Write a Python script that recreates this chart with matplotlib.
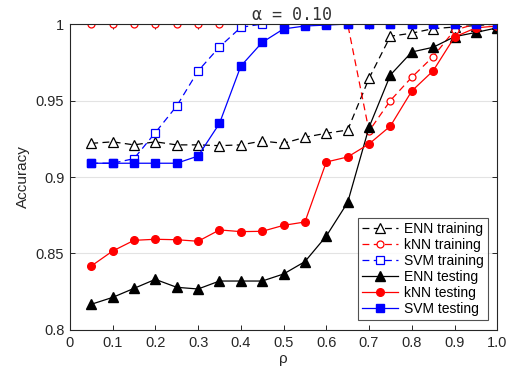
import matplotlib
matplotlib.use("Agg")
import matplotlib.pyplot as plt
import numpy as np

rho = [0.05, 0.10, 0.15, 0.20, 0.25, 0.30, 0.35, 0.40, 0.45, 0.50,
       0.55, 0.60, 0.65, 0.70, 0.75, 0.80, 0.85, 0.90, 0.95, 1.00]

enn_train = [0.922, 0.923, 0.921, 0.923, 0.921, 0.921, 0.9205, 0.921, 0.9235, 0.922,
             0.926, 0.9286, 0.9307, 0.9645, 0.992, 0.994, 0.997, 0.998, 0.999, 1.000]
knn_train = [1.0, 1.0, 1.0, 1.0, 1.0, 1.0, 1.0, 1.0, 1.0, 1.0,
             1.0, 1.0, 1.0, 0.930, 0.950, 0.9652, 0.9787, 0.996, 1.0, 1.0]
svm_train = [0.909, 0.909, 0.912, 0.929, 0.9464, 0.9693, 0.985, 0.9978, 1.0, 1.0,
             1.0, 1.0, 1.0, 1.0, 1.0, 1.0, 1.0, 1.0, 1.0, 1.0]
enn_test = [0.8168, 0.8213, 0.8272, 0.8331, 0.8279, 0.8268, 0.832, 0.832, 0.832, 0.8366,
            0.8447, 0.8614, 0.8834, 0.9325, 0.9667, 0.9817, 0.9848, 0.9917, 0.9945, 0.9975]
knn_test = [0.8418, 0.8516, 0.8586, 0.8593, 0.859, 0.858, 0.8654, 0.8643, 0.8645, 0.8684,
            0.8706, 0.9098, 0.9131, 0.9216, 0.9333, 0.9562, 0.9694, 0.9915, 0.9975, 0.9987]
svm_test = [0.909, 0.909, 0.909, 0.909, 0.909, 0.9137, 0.935, 0.9725, 0.988, 0.9968,
            0.9987, 0.9993, 1.0, 1.0, 1.0, 1.0, 1.0, 1.0, 1.0, 1.0]

x_ticks = [0, 0.1, 0.2, 0.3, 0.4, 0.5, 0.6, 0.7, 0.8, 0.9, 1.0]
x_tick_labels = ["0", "0.1", "0.2", "0.3", "0.4", "0.5", "0.6", "0.7", "0.8", "0.9", "1.0"]
y_ticks = [0.8, 0.85, 0.9, 0.95, 1.0]
y_tick_labels = ["0.8", "0.85", "0.9", "0.95", "1"]

plt.rcParams["font.family"] = ["Liberation Sans", "DejaVu Sans"]

fig = plt.figure(figsize=(5.10, 3.83), dpi=100)
ax = fig.add_axes([0.137, 0.1384, 0.838, 0.7989])

dash = (0, (5.5, 3.5))
ax.plot(rho, enn_train, color="black", linestyle=dash, lw=0.9, marker="^", ms=7,
        mfc="white", mec="black", mew=0.9, label="ENN training")
ax.plot(rho, knn_train, color="red", linestyle=dash, lw=0.9, marker="o", ms=5,
        mfc="white", mec="red", mew=0.9, label="kNN training")
ax.plot(rho, svm_train, color="blue", linestyle=dash, lw=0.9, marker="s", ms=5.5,
        mfc="white", mec="blue", mew=0.9, label="SVM training")
ax.plot(rho, enn_test, color="black", lw=0.9, marker="^", ms=7,
        mfc="black", mec="black", label="ENN testing")
ax.plot(rho, knn_test, color="red", lw=0.9, marker="o", ms=5.5,
        mfc="red", mec="red", label="kNN testing")
ax.plot(rho, svm_test, color="blue", lw=0.9, marker="s", ms=5.5,
        mfc="blue", mec="blue", label="SVM testing")

ax.set_xlim(0, 1.0)
ax.set_ylim(0.8, 1.0)
ax.set_xticks(x_ticks)
ax.set_xticklabels(x_tick_labels)
ax.set_yticks(y_ticks)
ax.set_yticklabels(y_tick_labels)
ax.tick_params(direction="in", top=True, right=True, labelsize=10.5,
               length=3.5, width=0.7, colors="#262626", pad=4)
ax.yaxis.grid(True, color="#e3e3e3", lw=0.8)
ax.set_axisbelow(True)
for s in ax.spines.values():
    s.set_linewidth(0.8)
    s.set_color("#262626")

ax.set_xlabel("ρ", fontsize=11, color="#262626", labelpad=2)
ax.set_ylabel("Accuracy", fontsize=11, color="#262626")
ax.set_title("α = 0.10", family=["DejaVu Sans Mono"], fontsize=12,
             color="#333333", x=0.52, pad=3)

leg = ax.legend(loc="lower right", fontsize=10, frameon=True, fancybox=False,
                edgecolor="#262626", borderpad=0.3, labelspacing=0.15,
                handlelength=2.6, handletextpad=0.4, borderaxespad=0.7)
leg.get_frame().set_linewidth(0.8)

fig.savefig("out.png", dpi=100)
